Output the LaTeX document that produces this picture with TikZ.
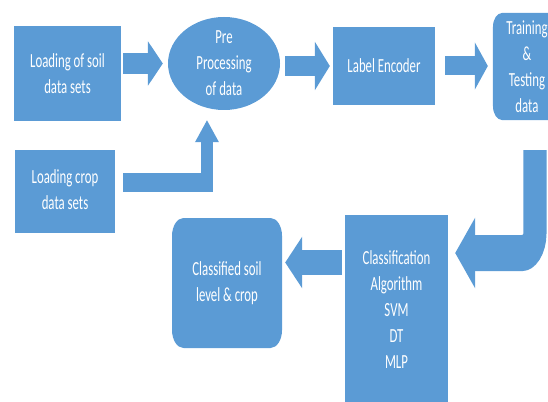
\documentclass[tikz,border=0pt]{standalone}
\usepackage{fontspec}
\setmainfont{Carlito}
\usetikzlibrary{shapes.geometric,arrows.meta}
\definecolor{blk}{RGB}{91,155,213}
\begin{document}
\begin{tikzpicture}[x=1pt,y=-1pt,
  txt/.style={text=white, align=center, font=\fontsize{20}{26}\selectfont},
  blockbox/.style={txt, fill=blk, inner sep=0pt},
  conn/.style={draw=blk, line join=miter, line cap=butt}]
\useasboundingbox (0,0) rectangle (548,401);
\begin{scope}[transform canvas={xscale=0.64}]
\clip (0,0) rectangle (856.25,401);
% boxes
\node[blockbox, minimum width=167.2pt, minimum height=95pt] (soil) at (105.5,73.5) {Loading of soil\\data sets};
\node[blockbox, minimum width=156.3pt, minimum height=83pt] (crop) at (101.6,191.5) {\raisebox{-3pt}{\begin{tabular}{@{}c@{}}Loading crop\\data sets\end{tabular}}};
\node[ellipse, fill=blk, inner sep=0pt, minimum width=175pt, minimum height=93pt] (pre) at (350,63.5) {};
\node[txt] (pretext) at (pre.center) {Pre\\Processing\\of data};
\node[blockbox, minimum width=159.4pt, minimum height=78pt] (enc) at (600,66) {Label Encoder};
\node[blockbox, rounded corners=14pt, minimum width=106.3pt, minimum height=107pt] (train) at (823.4,66.5) {Training\\\&\\Testing\\data};
\node[blockbox, minimum width=161pt, minimum height=190pt] (classif) at (619.5,310) {Classification\\Algorithm\\SVM\\DT\\MLP};
\node[blockbox, rounded corners=18pt, minimum width=171.9pt, minimum height=130pt] (result) at (354.7,283) {Classified soil\\level \& crop};
% connectors
\draw[conn, line width=21pt, shorten <=3.1pt, shorten >=7.8pt,
  -{Triangle[length=23.4pt,width=43pt]}] (soil.east |- pre.west) -- (pre.west);
\coordinate (a2) at (0,66);
\draw[conn, line width=20pt, shorten <=7.8pt, shorten >=4.7pt,
  -{Triangle[length=23.4pt,width=47pt]}] (pre.east |- a2) -- (enc.west |- a2);
\draw[conn, line width=19pt, shorten <=15.6pt, shorten >=7.8pt,
  -{Triangle[length=20.3pt,width=46pt]}] (enc.east |- a2) -- (train.west |- a2);
\coordinate (e1) at (323.4,182.5);
\draw[conn, line width=19pt, shorten <=12.5pt, shorten >=10pt,
  -{Triangle[length=22pt,width=36pt]}] (crop.east |- e1) -- (e1) -- (e1 |- pre.south);
\coordinate (u1) at (835.9,253);
\draw[conn, line width=36pt, rounded corners=20pt, shorten <=30pt, shorten >=11pt,
  -{Triangle[length=31.25pt,width=69pt]}] (u1 |- train.south) -- (u1) -- (u1 -| classif.east);
\coordinate (c1) at (0,262.5);
\draw[conn, line width=25pt, shorten <=4.6pt, shorten >=4.7pt,
  -{Triangle[length=26.6pt,width=50pt]}] (classif.west |- c1) -- (result.east |- c1);
\end{scope}
\end{tikzpicture}
\end{document}
